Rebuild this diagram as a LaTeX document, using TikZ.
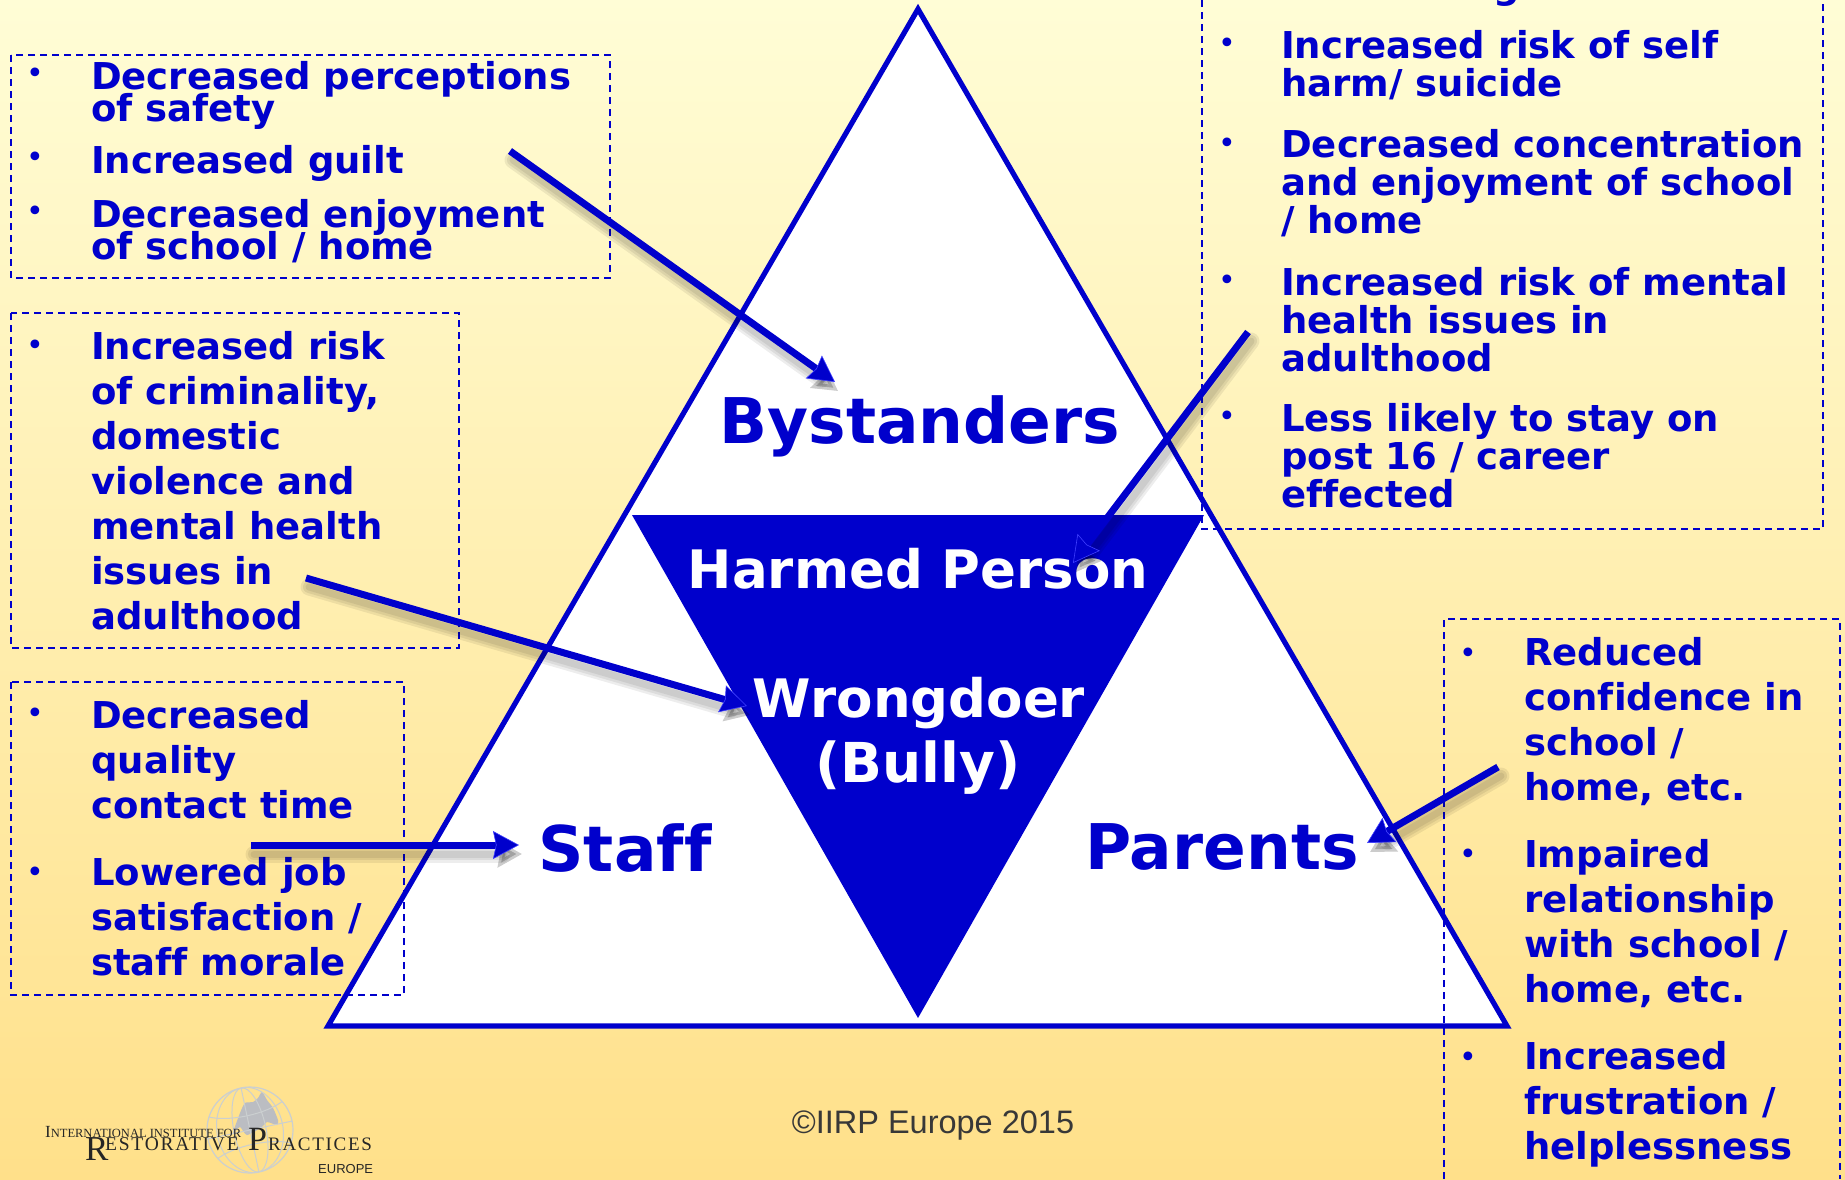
\documentclass[tikz,border=0pt]{standalone}
\usepackage{fontspec}
\setmainfont[Ligatures=NoCommon]{DejaVu Sans}
\newfontfamily\logofont{Liberation Serif}
\newfontfamily\logowide[LetterSpace=9]{Liberation Serif}
\newfontfamily\plainfont{Liberation Sans}
\usetikzlibrary{arrows.meta}
\definecolor{iirpblue}{RGB}{0,0,204}
\definecolor{palepaper}{RGB}{255,253,214}
\definecolor{warmpaper}{RGB}{255,224,138}
\definecolor{globeline}{RGB}{203,207,208}
\definecolor{globeland}{RGB}{187,189,194}
\newcommand{\itemfont}[1]{\fontsize{37}{#1}\selectfont\bfseries\setlength{\lineskiplimit}{-100pt}}
\tikzset{
    dashbox/.style={draw=iirpblue, line width=2pt, dash pattern=on 7pt off 5pt},
    itemtight/.style={anchor=base west, inner sep=0pt, align=left, text=iirpblue,
        font=\itemfont{32}},
    itemmid/.style={itemtight, font=\itemfont{38}},
    itemwide/.style={itemtight, font=\itemfont{45}},
    bulletdot/.style={inner sep=0pt, text=iirpblue, font=\fontsize{30}{30}\selectfont},
    rolename/.style={anchor=base, inner sep=0pt, text=iirpblue,
        font=\fontsize{63}{63}\selectfont\bfseries},
    harmname/.style={anchor=base, inner sep=0pt, text=white, align=center,
        font=\fontsize{53}{65}\selectfont\bfseries},
    hitarrow/.style={draw=iirpblue, line width=7pt,
        -{Stealth[length=26pt,width=28pt,inset=3pt,fill=iirpblue,color=blue!75!white,line width=.6pt]}},
    hitshadow/.style={draw=black, opacity=.07, line cap=round, transform canvas={shift={(3pt,-9pt)}},
        -{Stealth[length=24pt,width=26pt,inset=2pt]}},
    logotext/.style={anchor=base west, inner sep=0pt, text=black!85}
}
\begin{document}
\begin{tikzpicture}[x=1pt, y=-1pt]
    \useasboundingbox (0, 0) rectangle (1845, 1179);
    \shade[top color=palepaper, bottom color=warmpaper] (0, 0) rectangle (1845, 1179);

    % triangles
    \coordinate (T) at (918, 9);
    \coordinate (L) at (328, 1026);
    \coordinate (R) at (1507, 1026);
    \coordinate (P) at (632, 515);
    \coordinate (Q) at (1204, 515);
    \coordinate (M) at (918, 1018);
    \draw[iirpblue, fill=white, line width=5.2pt, line join=miter] (T) -- (R) -- (L) -- cycle;
    \fill[iirpblue] (P) -- (Q) -- (M) -- cycle;

    \node[rolename] (bystanders) at (920, 443) {Bystanders};
    \node[rolename] (staff) at (625, 871) {Staff};
    \node[rolename] (parents) at (1222, 869) {Parents};
    \node[harmname] (harmed) at (918, 588) {Harmed Person};
    \node[harmname] (wrongdoer) at (919, 717) {Wrongdoer};
    \node[harmname] (bully) at (918, 782) {\fontsize{55}{65}\selectfont(Bully)};

    % dashed boxes
    \draw[dashbox] (11, 55) rectangle (610, 278);
    \draw[dashbox] (11, 313) rectangle (459, 648);
    \draw[dashbox] (11, 682) rectangle (404, 995);
    \draw[dashbox] (1202, 0) -- (1202, 529) -- (1823, 529) -- (1823, 0);
    \draw[dashbox] (1444, 1179) -- (1444, 619) -- (1840, 619) -- (1840, 1179);

    % bullets
    \foreach \y in {76, 160, 214, 348, 716, 875}
        \node[bulletdot] (left\y) at (35, \y) {•};
    \foreach \y in {46, 146, 283, 419}
        \node[bulletdot] (top\y) at (1227, \y) {•};
    \foreach \y in {656, 857, 1060}
        \node[bulletdot] (right\y) at (1468, \y) {•};

    % left items
    \node[itemtight] (safety) at (91, 121) {Decreased perceptions\\of safety};
    \node[itemtight] (guilt) at (91, 173) {Increased guilt};
    \node[itemtight] (enjoy) at (91, 259) {Decreased enjoyment\\of school / home};
    \node[itemwide] (crime) at (91, 629) {Increased risk\\of criminality,\\domestic\\violence and\\mental health\\issues in\\adulthood};
    \node[itemwide] (quality) at (91, 818) {Decreased\\quality\\contact time};
    \node[itemwide] (morale) at (91, 975) {Lowered job\\satisfaction /\\staff morale};

    % top right items
    \node[itemtight, anchor=base] (cutoff) at (1507, -2) {g};
    \node[itemmid] (harm) at (1281, 96) {Increased risk of self\\harm/ suicide};
    \node[itemmid] (focus) at (1281, 233) {Decreased concentration\\and enjoyment of school\\/ home};
    \node[itemmid] (mental) at (1281, 371) {Increased risk of mental\\health issues in\\adulthood};
    \node[itemmid] (career) at (1281, 507) {Less likely to stay on\\post 16 / career\\effected};

    % bottom right items
    \node[itemwide] (trust) at (1524, 800) {Reduced\\confidence in\\school /\\home, etc.};
    \node[itemwide] (bond) at (1524, 1002) {Impaired\\relationship\\with school /\\home, etc.};
    \node[itemwide] (help) at (1524, 1159) {Increased\\frustration /\\helplessness};

    % arrows
    \coordinate (a1) at (510, 151);
    \coordinate (b1) at (835, 382);
    \coordinate (a2) at (1248, 332);
    \coordinate (b2) at (1073, 563);
    \coordinate (a3) at (306, 578);
    \coordinate (b3) at (747, 706);
    \coordinate (a4) at (251, 845);
    \coordinate (b4) at (519, 845);
    \coordinate (a5) at (1498, 767);
    \coordinate (b5) at (1367, 843);
    \foreach \i in {1, ..., 5} {
        \foreach \w in {17, 12, 7}
            \draw[hitshadow, line width=\w pt] (a\i) -- (b\i);
        \draw[hitarrow] (a\i) -- (b\i);
    }

    % footer
    \node[anchor=base, inner sep=0pt, text=black!78, font=\plainfont\fontsize{32.5}{32}\selectfont] (footer) at (933, 1133) {©IIRP Europe 2015};

    % logo
    \begin{scope}
        \clip (250, 1130) circle (43);
        \fill[globeland] plot[smooth cycle, tension=.4] coordinates {(262, 1092) (267, 1100) (273, 1108) (278, 1120) (277, 1125) (267, 1122) (262, 1127) (247, 1135) (240, 1127) (233, 1133) (240, 1113) (245, 1103) (253, 1102) (258, 1098)};
        \begin{scope}[rotate around={12:(250, 1130)}, globeline, line width=1pt]
            \draw (250, 1130) ellipse (16 and 43);
            \draw (250, 1130) ellipse (33 and 43);
            \draw (250, 1087) -- (250, 1173);
            \draw (207, 1130) -- (293, 1130);
            \draw (211, 1108) .. controls (230, 1118) and (270, 1118) .. (289, 1108);
            \draw (211, 1152) .. controls (230, 1142) and (270, 1142) .. (289, 1152);
        \end{scope}
    \end{scope}
    \draw[globeline, line width=1.2pt] (250, 1130) circle (43);
    \node[logotext, font=\logofont\fontsize{12.5}{13}\selectfont] (logoline) at (45, 1137) {{\fontsize{17}{17}\selectfont I}NTERNATIONAL INSTITUTE FOR};
    \node[logotext, font=\logofont\fontsize{35}{35}\selectfont] (logoinitial) at (85, 1160) {R};
    \node[logotext, font=\logowide\fontsize{19.5}{19}\selectfont] (logorest) at (105, 1150) {ESTORATIVE};
    \node[logotext, font=\logofont\fontsize{34}{34}\selectfont] (logopee) at (248, 1150) {P};
    \node[logotext, font=\logowide\fontsize{19}{19}\selectfont] (logoract) at (268, 1150) {RACTICES};
    \node[logotext, font=\plainfont\fontsize{13}{13}\selectfont] (logoeurope) at (318, 1173) {EUROPE};
\end{tikzpicture}
\end{document}
